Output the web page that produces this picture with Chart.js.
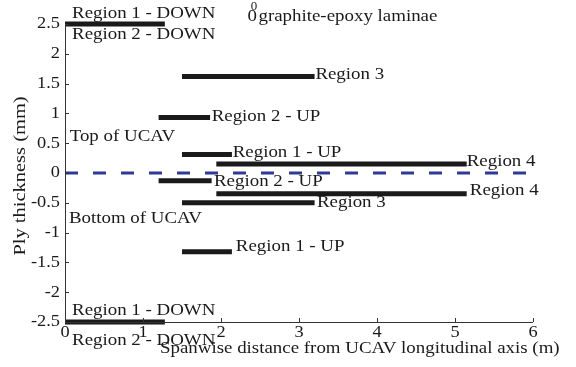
<!DOCTYPE html>
<html>
<head>
<meta charset="utf-8">
<script src="https://cdn.jsdelivr.net/npm/chart.js@4.4.0/dist/chart.umd.min.js"></script>
<style>
  html, body { margin: 0; padding: 0; background: #fff; }
  #wrap { width: 576px; height: 367px; }
</style>
</head>
<body>
<div id="wrap"><canvas id="plyChart" width="576" height="367"></canvas></div>
<script>
// Ply segments: thickness level and spanwise start/end (m)
const segLevel = [2.5, 1.62, 0.93, 0.31, 0.15, -0.13, -0.35, -0.5, -1.32, -2.5];
const segStart = [0, 1.5, 1.2, 1.5, 1.94, 1.2, 1.94, 1.5, 1.5, 0];
const segEnd   = [1.28, 3.2, 1.86, 2.14, 5.15, 1.88, 5.15, 3.2, 2.14, 1.28];

// Mid-plane (dashed) line
const midX = [0, 5.94];
const midY = [0, 0];

// Tick values
const xTicks = [0, 1, 2, 3, 4, 5, 6];
const yTicks = [-2.5, -2, -1.5, -1, -0.5, 0, 0.5, 1, 1.5, 2, 2.5];

// Text annotations (data coords)
const noteText = ['Region 1 - DOWN', 'Region 2 - DOWN', 'Region 3', 'Region 2 - UP', 'Top of UCAV',
  'Region 1 - UP', 'Region 4', 'Region 2 - UP', 'Region 4', 'Region 3', 'Bottom of UCAV',
  'Region 1 - UP', 'Region 1 - DOWN', 'Region 2 - DOWN'];
const noteX = [0.09, 0.09, 3.21, 1.88, 0.06, 2.15, 5.15, 1.91, 5.19, 3.23, 0.05, 2.19, 0.09, 0.09];
const noteY = [2.67, 2.32, 1.66, 0.95, 0.62, 0.34, 0.19, -0.14, -0.30, -0.50, -0.76, -1.23, -2.30, -2.81];

const xTitle = 'Spanwise distance from UCAV longitudinal axis (m)';
const yTitle = 'Ply thickness (mm)';

const FONT = '"Liberation Serif", "Times New Roman", serif';
const INK = '#1a1a1a';
const SX = 1.08; // the reference text is a little wide

const datasets = segLevel.map((lv, i) => ({
    data: [{ x: segStart[i], y: lv }, { x: segEnd[i], y: lv }],
    borderColor: INK,
    borderWidth: 5,
    pointRadius: 0,
    clip: false
}));
datasets.push({
    data: midX.map((x, i) => ({ x: x, y: midY[i] })),
    borderColor: '#2e3a96',
    borderWidth: 3,
    borderDash: [13, 15],
    pointRadius: 0,
    clip: false
});

// draw stretched text
function txt(ctx, s, x, y, align, size, stretch, rot) {
    ctx.save();
    ctx.translate(x, y);
    if (rot) ctx.rotate(rot);
    ctx.scale(stretch, 1);
    ctx.font = size + 'px ' + FONT;
    ctx.textAlign = align;
    ctx.fillText(s, 0, 0);
    ctx.restore();
}

// Inward ticks, axis lines, labels and annotations
const decor = {
    id: 'decor',
    afterDraw(chart) {
        const ctx = chart.ctx;
        const xs = chart.scales.x, ys = chart.scales.y;
        const a = chart.chartArea;
        ctx.save();
        ctx.strokeStyle = '#333';
        ctx.lineWidth = 1;
        ctx.beginPath();
        ctx.moveTo(a.left + 0.5, a.top);
        ctx.lineTo(a.left + 0.5, a.bottom + 0.5);
        ctx.lineTo(a.right, a.bottom + 0.5);
        yTicks.forEach(v => {
            const py = Math.round(ys.getPixelForValue(v)) + 0.5;
            ctx.moveTo(a.left, py);
            ctx.lineTo(a.left + 4, py);
        });
        xTicks.forEach(v => {
            const px = Math.round(xs.getPixelForValue(v)) + 0.5;
            ctx.moveTo(px, a.bottom);
            ctx.lineTo(px, a.bottom - 4);
        });
        ctx.stroke();

        ctx.fillStyle = INK;
        // tick labels
        ctx.textBaseline = 'middle';
        yTicks.forEach(v => txt(ctx, String(v), a.left - 5, ys.getPixelForValue(v), 'right', 17, SX));
        ctx.textBaseline = 'alphabetic';
        xTicks.forEach(v => txt(ctx, String(v), xs.getPixelForValue(v), a.bottom + 15, 'center', 17, SX));

        // axis titles
        txt(ctx, xTitle, 160, 353, 'left', 17.5, SX);
        ctx.textBaseline = 'middle';
        txt(ctx, yTitle, 20, 176, 'center', 17.5, 1.17, -Math.PI / 2);

        // annotations
        noteText.forEach((t, i) => {
            txt(ctx, t, xs.getPixelForValue(noteX[i]), ys.getPixelForValue(noteY[i]), 'left', 17.5, SX);
        });

        // title with superscript
        txt(ctx, '0', xs.getPixelForValue(2.34), ys.getPixelForValue(2.62), 'left', 17.5, SX);
        txt(ctx, '0', xs.getPixelForValue(2.38), ys.getPixelForValue(2.79), 'left', 12, SX);
        txt(ctx, 'graphite-epoxy laminae', xs.getPixelForValue(2.48), ys.getPixelForValue(2.62), 'left', 17.5, SX);
        ctx.restore();
    }
};

new Chart(document.getElementById('plyChart'), {
    type: 'line',
    data: { datasets: datasets },
    plugins: [decor],
    options: {
        responsive: false,
        animation: false,
        layout: { padding: { top: 24, right: 43, left: 0, bottom: 0 } },
        plugins: { legend: { display: false }, tooltip: { enabled: false } },
        scales: {
            x: {
                type: 'linear',
                min: 0, max: 6,
                afterFit: s => { s.height = 45; },
                afterBuildTicks: s => { s.ticks = xTicks.map(v => ({ value: v })); },
                grid: { display: false, drawTicks: false },
                border: { display: false },
                ticks: { display: false }
            },
            y: {
                type: 'linear',
                min: -2.5, max: 2.5,
                afterFit: s => { s.width = 65; },
                afterBuildTicks: s => { s.ticks = yTicks.map(v => ({ value: v })); },
                grid: { display: false, drawTicks: false },
                border: { display: false },
                ticks: { display: false }
            }
        }
    }
});
</script>
</body>
</html>
